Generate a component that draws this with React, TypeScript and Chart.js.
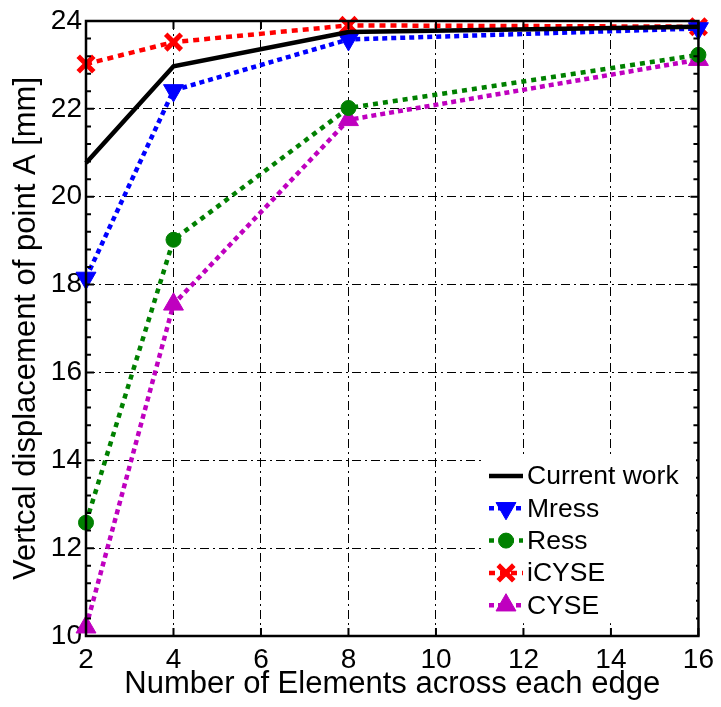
import React, { useEffect, useRef } from "react";
import { Chart, registerables } from "chart.js";
import { drawPoint } from "chart.js/helpers";

Chart.register(...registerables);

const xValues = [2, 4, 8, 16];
const currentWork = [20.77, 22.97, 23.75, 23.87];
const mress = [18.15, 22.42, 23.58, 23.83];
const ress = [12.58, 19.02, 22.02, 23.23];
const icyse = [23.02, 23.52, 23.9, 23.87];
const cyse = [10.2, 17.55, 21.75, 23.12];

const xTickLabels = ["2", "4", "6", "8", "10", "12", "14", "16"];
const yTickLabels = ["10", "12", "14", "16", "18", "20", "22", "24"];

const FONT = "'Liberation Sans', Arial, sans-serif";

const toPoints = (ys: number[]) => xValues.map((x, i) => ({ x, y: ys[i] }));

const frameLegendPlugin = {
  id: "frameLegend",
  afterDatasetsDraw(chart: any) {
    const ctx = chart.ctx;
    const { left, right, top, bottom } = chart.chartArea;
    const ys = chart.scales.y;
    const xs = chart.scales.x;
    ctx.save();
    ctx.strokeStyle = "#000";
    ctx.lineWidth = 2.5;
    ctx.setLineDash([]);
    ctx.strokeRect(left, top, right - left, bottom - top);
    ctx.lineWidth = 2;
    const major = 8;
    for (let v = 2; v <= 16; v += 2) {
      const px = xs.getPixelForValue(v);
      ctx.beginPath();
      ctx.moveTo(px, bottom);
      ctx.lineTo(px, bottom - major);
      ctx.moveTo(px, top);
      ctx.lineTo(px, top + major);
      ctx.stroke();
    }
    for (let k = 0; k <= 35; k++) {
      const v = 10 + k * 0.4;
      const py = ys.getPixelForValue(v);
      const isMajor = k % 5 === 0;
      const len = isMajor ? major : 5;
      ctx.beginPath();
      ctx.moveTo(left, py);
      ctx.lineTo(left + len, py);
      ctx.moveTo(right, py);
      ctx.lineTo(right - len, py);
      ctx.stroke();
    }
    const lx = 489;
    const ly0 = 476;
    const dy = 32.3;
    ctx.fillStyle = "#fff";
    ctx.fillRect(lx - 5, ly0 - 18, 212, dy * 4 + 36);
    chart.data.datasets.forEach((ds: any, i: number) => {
      const y = ly0 + i * dy;
      ctx.save();
      ctx.strokeStyle = ds.borderColor;
      ctx.lineWidth = ds.borderWidth;
      ctx.setLineDash(ds.borderDash || []);
      ctx.beginPath();
      ctx.moveTo(lx, y);
      ctx.lineTo(lx + 34, y);
      ctx.stroke();
      ctx.setLineDash([]);
      if (ds.pointStyle && ds.pointRadius > 0) {
        const opts = {
          pointStyle: ds.pointStyle,
          radius: ds.pointRadius,
          rotation: ds.pointRotation || 0,
          borderWidth: ds.pointBorderWidth || 1,
        };
        ctx.fillStyle = ds.pointBackgroundColor;
        ctx.strokeStyle = ds.pointBorderColor;
        ctx.lineWidth = opts.borderWidth;
        drawPoint(ctx, opts as any, lx + 17, y);
      }
      ctx.restore();
      ctx.fillStyle = "#000";
      ctx.font = `26.5px ${FONT}`;
      ctx.textBaseline = "middle";
      ctx.textAlign = "left";
      ctx.fillText(ds.label, lx + 38, y + 1);
    });
    ctx.restore();
  },
};

export default function App() {
  const ref = useRef<HTMLCanvasElement | null>(null);
  useEffect(() => {
    if (!ref.current) return;
    const chart = new Chart(ref.current, {
      type: "line",
      data: {
        datasets: [
          {
            label: "Current work",
            data: toPoints(currentWork),
            borderColor: "#000000",
            backgroundColor: "#000000",
            borderWidth: 4.5,
            pointRadius: 0,
            pointStyle: false as any,
            clip: false as any,
          },
          {
            label: "Mress",
            data: toPoints(mress),
            borderColor: "#0000FF",
            backgroundColor: "#0000FF",
            borderWidth: 4.5,
            borderDash: [5, 4],
            pointStyle: "triangle",
            pointRotation: 180,
            pointRadius: 11.5,
            pointBackgroundColor: "#0000FF",
            pointBorderColor: "#0000FF",
            pointBorderWidth: 1,
            clip: false as any,
          },
          {
            label: "Ress",
            data: toPoints(ress),
            borderColor: "#008000",
            backgroundColor: "#008000",
            borderWidth: 4.5,
            borderDash: [5, 5],
            pointStyle: "circle",
            pointRadius: 7.5,
            pointBackgroundColor: "#008000",
            pointBorderColor: "#008000",
            pointBorderWidth: 1,
            clip: false as any,
          },
          {
            label: "iCYSE",
            data: toPoints(icyse),
            borderColor: "#FF0000",
            backgroundColor: "#FF0000",
            borderWidth: 4.5,
            borderDash: [6, 5],
            pointStyle: "crossRot",
            pointRadius: 11,
            pointBackgroundColor: "#FF0000",
            pointBorderColor: "#FF0000",
            pointBorderWidth: 5,
            clip: false as any,
          },
          {
            label: "CYSE",
            data: toPoints(cyse),
            borderColor: "#BF00BF",
            backgroundColor: "#BF00BF",
            borderWidth: 4.5,
            borderDash: [5, 4],
            pointStyle: "triangle",
            pointRadius: 11.5,
            pointBackgroundColor: "#BF00BF",
            pointBorderColor: "#BF00BF",
            pointBorderWidth: 1,
            clip: false as any,
          },
        ],
      },
      options: {
        responsive: false,
        animation: false,
        layout: { padding: { left: 0, right: 21, top: 21, bottom: 0 } },
        plugins: {
          legend: { display: false },
          tooltip: { enabled: false },
        },
        elements: { line: { tension: 0 } },
        scales: {
          x: {
            type: "linear",
            min: 2,
            max: 16,
            afterBuildTicks: (scale: any) => {
              scale.ticks = xTickLabels.map((t) => ({ value: Number(t) }));
            },
            afterFit: (scale: any) => {
              scale.height = 71;
            },
            ticks: {
              color: "#000",
              font: { family: FONT, size: 28 },
              padding: 7,
              maxRotation: 0,
              autoSkip: false,
            },
            grid: {
              color: "#000",
              lineWidth: 1,
              drawTicks: false,
            },
            border: { display: false, dash: [9, 4, 2, 4] } as any,
            title: {
              display: true,
              text: "Number of Elements across each edge",
              color: "#000",
              font: { family: FONT, size: 31 },
              padding: { top: 0, bottom: 4 },
            },
          },
          y: {
            type: "linear",
            min: 10,
            max: 24,
            afterBuildTicks: (scale: any) => {
              scale.ticks = yTickLabels.map((t) => ({ value: Number(t) }));
            },
            afterFit: (scale: any) => {
              scale.width = 86;
            },
            ticks: {
              color: "#000",
              font: { family: FONT, size: 28 },
              padding: 4,
              autoSkip: false,
            },
            grid: {
              color: "#000",
              lineWidth: 1,
              drawTicks: false,
            },
            border: { display: false, dash: [9, 4, 2, 4] } as any,
            title: {
              display: true,
              text: "Vertcal displacement of point A [mm]",
              color: "#000",
              font: { family: FONT, size: 31 },
              padding: { top: 8, bottom: 0 },
            },
          },
        },
      },
      plugins: [frameLegendPlugin],
    } as any);
    return () => chart.destroy();
  }, []);
  return (
    <div style={{ position: "absolute", left: 0, top: 0, width: 721, height: 707, background: "#fff" }}>
      <canvas ref={ref} width={721} height={707} style={{ display: "block" }} />
    </div>
  );
}
